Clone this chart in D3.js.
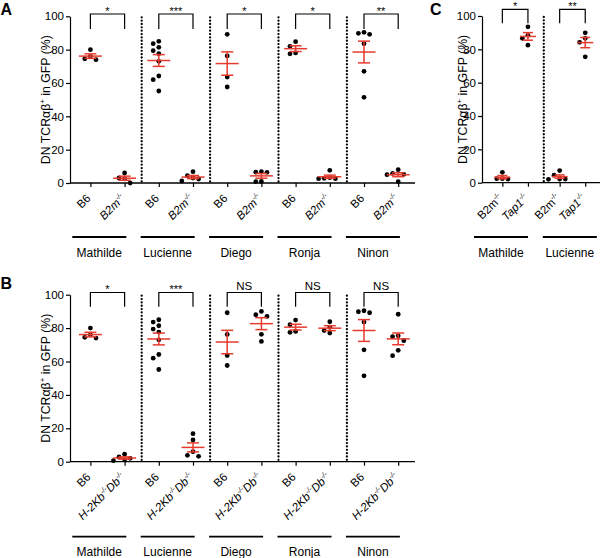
<!DOCTYPE html>
<html><head><meta charset="utf-8">
<script src="https://cdn.jsdelivr.net/npm/d3@7"></script>
<style>
body{margin:0;background:#fff}
svg{display:block}
text{font-family:Arial,"Liberation Sans",Helvetica,sans-serif;fill:#000}
</style>
</head><body>
<svg id="chart" width="600" height="558"></svg>
<script>
// ---------------- data ----------------
const donors = ["Mathilde", "Lucienne", "Diego", "Ronja", "Ninon"];
const yTickValues = [0, 20, 40, 60, 80, 100];
const b6Values = [
  [80, 76, 74, 74.5],
  [85, 83.6, 81.4, 79.4, 77.6, 73, 64.2, 62, 55.2],
  [89.2, 76.2, 63.6, 57.6],
  [84.8, 82, 77.5, 78],
  [89.8, 89.2, 90.4, 83.6, 67, 51.4]
];
const b2mValues = [
  [6, 3, 2.5, 0],
  [6.8, 4.4, 2.4, 1.2, 3],
  [6.4, 6.5, 6.8, 0.8, 0.9],
  [7.6, 2.6, 2.8, 2.6, 3.2],
  [8, 5.8, 5, 5.2, 0.8]
];
const h2Values = [
  [4.5, 2.8, 1.2, 0.6, 2.0],
  [16.8, 13, 6, 3.8, 3.2],
  [90, 87, 88, 76.3, 72],
  [83.8, 80.5, 77, 78.5],
  [88.3, 74.9, 75.4, 72.5, 66.7, 63.5]
];
const sigA = ["*", "***", "*", "*", "**"];
const sigB = ["*", "***", "NS", "NS", "NS"];
const donorsC = ["Mathilde", "Lucienne"];
const b2mValuesC = [[6.2, 2.4, 2.2, 2.4], [7.3, 2.2, 2.2, 4.5, 2.0]];
const tap1ValuesC = [[93.5, 88.4, 86.6, 82.5], [89.9, 86.6, 84.2, 75.5]];
const sigC = ["*", "**"];
// label pieces: [text, superscript]
const labelB6 = [["B6", false]];
const labelB2m = [["B2m", false], ["-/-", true]];
const labelH2 = [["H-2Kb", false], ["-/-", true], ["Db", false], ["-/-", true]];
const labelTap1 = [["Tap1", false], ["-/-", true]];
const panelLetters = ["A", "B", "C"];

// ---------------- drawing ----------------
const svg = d3.select("#chart");
const RED = "#e63b2e";
const R = 2.4;

function jitter(values, y, step) {
  const placed = [];
  const order = values.map((v, i) => i).sort((a, b) => values[b] - values[a]);
  const offs = new Array(values.length);
  order.forEach(i => {
    const py = y(values[i]);
    for (let k = 0; k < 20; k++) {
      const cand = k === 0 ? 0 : (k % 2 ? -1 : 1) * Math.ceil(k / 2) * step;
      const ok = placed.every(p => (p.x - cand) ** 2 + (p.y - py) ** 2 >= (2 * R + 0.6) ** 2);
      if (ok) { offs[i] = cand; placed.push({x: cand, y: py}); break; }
    }
  });
  return offs;
}

function drawLabel(g, x, y, pieces, italic) {
  const gg = g.append("g").attr("transform", `translate(${x},${y}) rotate(-45)`);
  const t = gg.append("text").attr("text-anchor", "end").attr("font-size", 11.5)
    .attr("font-style", italic ? "italic" : "normal");
  let shifted = false;
  pieces.forEach(([s, sup]) => {
    const ts = t.append("tspan").text(s);
    if (sup && !shifted) { ts.attr("dy", -4.5).attr("font-size", 7); shifted = true; }
    else if (!sup && shifted) { ts.attr("dy", 4.5); shifted = false; }
    else if (sup) ts.attr("font-size", 7);
  });
}

function panel(cfg) {
  const g = svg.append("g");
  const y = d3.scaleLinear().domain([0, 100]).range(cfg.yRange);
  const x = d3.scaleBand().domain(cfg.groups).range(cfg.xRange).padding(0);
  const inner = d3.scalePoint().domain([0, 1]).range([0, x.bandwidth()]).padding(cfg.innerPad);
  const pos = (gi, si) => x(cfg.groups[gi]) + inner(si);

  // y axis
  const ya = g.append("g").attr("transform", `translate(${cfg.axisX0},0)`)
    .call(d3.axisLeft(y).tickValues(yTickValues).tickSize(4).tickPadding(2).tickSizeOuter(0));
  ya.selectAll("path,line").attr("stroke", "#000").attr("stroke-width", 1.2);
  ya.selectAll("text").attr("font-size", 11.5).attr("font-family", null).attr("fill", "#000");

  // x axis line and ticks
  const keys = [];
  cfg.groups.forEach((d, gi) => [0, 1].forEach(si => keys.push(gi + "_" + si)));
  const xo = d3.scaleOrdinal().domain(keys).range(keys.map(k => { const [gi, si] = k.split("_").map(Number); return pos(gi, si); }));
  const xa = g.append("g").attr("transform", `translate(0,${y(0)})`)
    .call(d3.axisBottom(xo).tickSize(4).tickFormat(""));
  xa.select(".domain").remove();
  xa.selectAll("line").attr("stroke", "#000").attr("stroke-width", 1.2);
  g.append("line").attr("x1", cfg.axisX0).attr("x2", cfg.axisX1).attr("y1", y(0)).attr("y2", y(0))
    .attr("stroke", "#000").attr("stroke-width", 1.3);

  // dotted separators
  cfg.groups.slice(1).forEach(d => {
    g.append("line").attr("x1", x(d)).attr("x2", x(d)).attr("y1", y(100) + 1).attr("y2", y(0) + 1)
      .attr("stroke", "#000").attr("stroke-width", 2.3).attr("stroke-linecap", "round")
      .attr("stroke-dasharray", "0 3.35");
  });

  // points and mean/sem
  cfg.series.forEach((vals, si) => {
    vals.forEach((arr, gi) => {
      const cx = pos(gi, si);
      const offs = jitter(arr, y, 5.6);
      g.selectAll(null).data(arr).enter().append("circle")
        .attr("cx", (d, i) => cx + offs[i]).attr("cy", d => y(d)).attr("r", R).attr("fill", "#000");
      const m = d3.mean(arr), se = d3.deviation(arr) / Math.sqrt(arr.length);
      const rg = g.append("g").attr("stroke", RED).attr("stroke-width", 1.5).attr("fill", "none");
      rg.append("line").attr("x1", cx - cfg.meanHW).attr("x2", cx + cfg.meanHW).attr("y1", y(m)).attr("y2", y(m));
      rg.append("line").attr("x1", cx).attr("x2", cx).attr("y1", y(m - se)).attr("y2", y(m + se));
      [m - se, m + se].forEach(v => rg.append("line").attr("x1", cx - cfg.capHW).attr("x2", cx + cfg.capHW).attr("y1", y(v)).attr("y2", y(v)));
    });
  });

  // brackets
  cfg.groups.forEach((d, gi) => {
    const x0 = pos(gi, 0), x1 = pos(gi, 1);
    g.append("path").attr("d", `M${x0},${cfg.brB}V${cfg.brT}H${x1}V${cfg.brB}`)
      .attr("fill", "none").attr("stroke", "#000").attr("stroke-width", 1.2);
    const s = cfg.sig[gi];
    g.append("text").attr("x", (x0 + x1) / 2).attr("y", s === "NS" ? cfg.brT - 3 : cfg.brT + cfg.starDy)
      .attr("text-anchor", "middle").attr("font-size", s === "NS" ? 11.5 : 11).text(s);
  });

  // category labels
  cfg.groups.forEach((d, gi) => {
    [0, 1].forEach(si => drawLabel(g, pos(gi, si) + 1, y(0) + cfg.labDy, cfg.labels[si], si === 1));
    const c = x(d) + cfg.lineOffs[gi];
    g.append("line").attr("x1", c).attr("x2", c + 54).attr("y1", cfg.lineY).attr("y2", cfg.lineY)
      .attr("stroke", "#000").attr("stroke-width", 1.8);
    g.append("text").attr("x", c + 27).attr("y", cfg.nameY).attr("text-anchor", "middle")
      .attr("font-size", 12).text(d);
  });

  // y title
  const t = g.append("text").attr("transform", `translate(${cfg.titleX},${(cfg.yRange[0] + cfg.yRange[1]) / 2}) rotate(-90)`)
    .attr("text-anchor", "middle").attr("font-size", 12.3);
  t.append("tspan").text("DN TCRαβ");
  t.append("tspan").attr("dy", -5).attr("font-size", 8).text("+");
  t.append("tspan").attr("dy", 5).text(" in GFP (%)");

  // panel letter
  g.append("text").attr("x", cfg.letterX).attr("y", cfg.letterY).attr("font-size", 16)
    .attr("font-weight", "bold").text(cfg.letter);
}

const offsAB = [-1, -1, -1, -1, -1];
panel({
  groups: donors, series: [b6Values, b2mValues], labels: [labelB6, labelB2m], sig: sigA,
  yRange: [183, 16.3], xRange: [73.3, 415.3], innerPad: 0.5, axisX0: 70, axisX1: 415,
  meanHW: 11.5, capHW: 6, brT: 14, brB: 29, starDy: 0.5, labDy: 16, lineY: 237, nameY: 256.5, lineOffs: offsAB,
  titleX: 49.5, letter: panelLetters[0], letterX: 0.5, letterY: 15
});
panel({
  groups: donors, series: [b6Values, h2Values], labels: [labelB6, labelH2], sig: sigB,
  yRange: [461.7, 294.7], xRange: [73.3, 415.3], innerPad: 0.5, axisX0: 70, axisX1: 415,
  meanHW: 11.5, capHW: 6, brT: 292.5, brB: 306.7, starDy: 0.5, labDy: 16, lineY: 536.7, nameY: 555.5, lineOffs: offsAB,
  titleX: 49.5, letter: panelLetters[1], letterX: 0.5, letterY: 289
});
panel({
  groups: donorsC, series: [b2mValuesC, tap1ValuesC], labels: [labelB2m, labelTap1], sig: sigC,
  yRange: [182.7, 16], xRange: [486.5, 601.1], innerPad: 0.62, axisX0: 482, axisX1: 600,
  meanHW: 8, capHW: 5, brT: 9.3, brB: 23.3, starDy: 1, labDy: 16, lineY: 237, nameY: 256.5, lineOffs: [-12.5, -1],
  titleX: 466.5, letter: panelLetters[2], letterX: 430, letterY: 15
});
</script>
</body></html>
